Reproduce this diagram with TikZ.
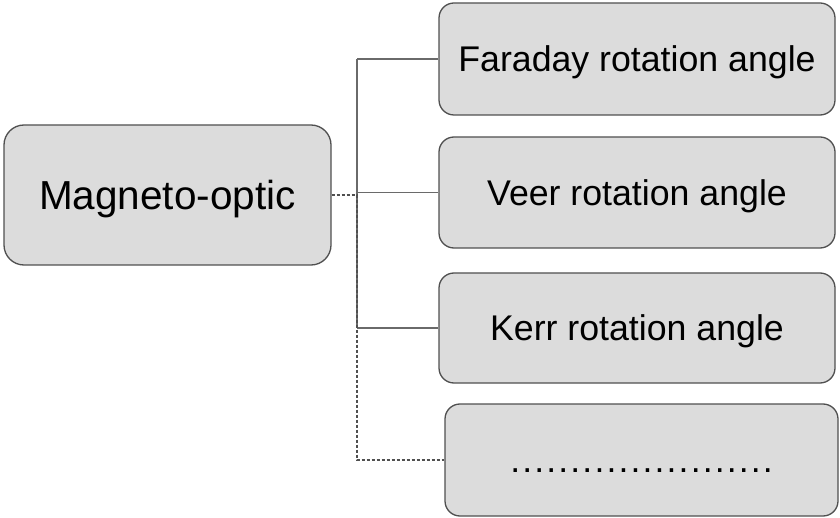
\documentclass[tikz,border=0pt]{standalone}
\usepackage{fontspec}
\setmainfont{Liberation Sans}
\definecolor{boxfill}{HTML}{DCDCDC}
\definecolor{boxline}{HTML}{505050}
\definecolor{connline}{HTML}{6A6A6A}
\begin{document}
\begin{tikzpicture}[x=1pt,y=-1pt,
  box/.style={draw=boxline, line width=1.3pt, fill=boxfill, rounded corners=15pt,
    inner sep=0pt, align=center, font=\fontsize{35.7}{40}\selectfont,
    text height=25.5pt, text depth=0pt},
  conn/.style={draw=connline, line width=1.1pt},
  dashconn/.style={draw=boxline, line width=1.1pt, dash pattern=on 3pt off 2pt}]
\useasboundingbox (0,0) rectangle (840,518);
\node[box, minimum width=327pt, minimum height=140pt, rounded corners=20pt,
  font=\fontsize{40.5}{45}\selectfont, text height=29pt] (M) at (167.5,195) {Magneto-optic};
\node[box, minimum width=396pt, minimum height=112pt] (F) at (637,59) {Faraday rotation angle};
\node[box, minimum width=396pt, minimum height=111pt] (V) at (637,192.5) {Veer rotation angle};
\node[box, minimum width=396pt, minimum height=110pt] (K) at (637,328) {Kerr rotation angle};
\node[box, minimum width=393pt, minimum height=112pt] (D) at (641.5,460)
  {\addfontfeature{LetterSpace=5.9}......................};
\coordinate (j) at (357,195);
\draw[conn] (j |- F.west) -- (j |- K.west);
\draw[conn] (j |- F.west) -- (F.west);
\draw[conn] (j |- V.west) -- (V.west);
\draw[conn] (j |- K.west) -- (K.west);
\draw[dashconn] (M.east) -- (j) |- (D.west);
\end{tikzpicture}
\end{document}
